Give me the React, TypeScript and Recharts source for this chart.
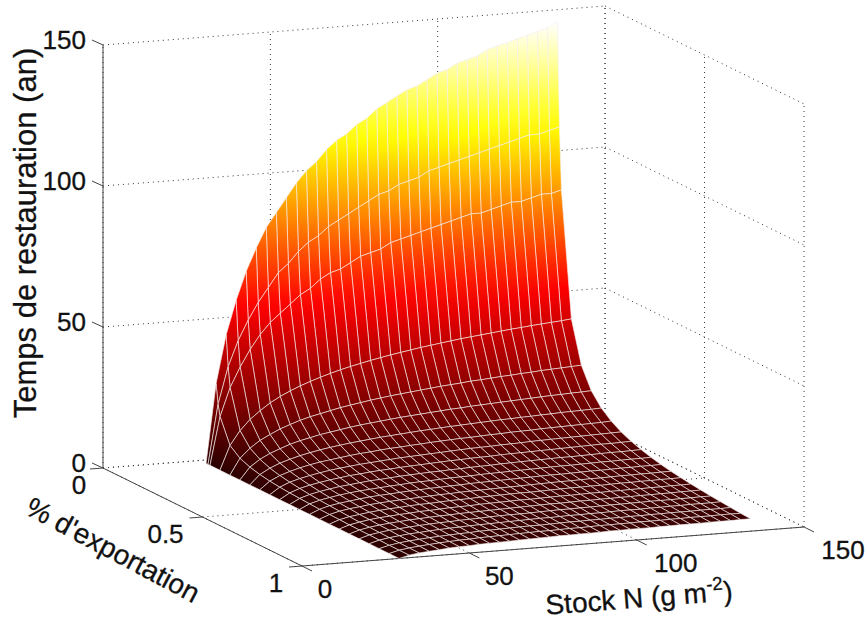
import { ScatterChart, Scatter, XAxis, YAxis } from "recharts";

const stockLevels = [29, 32, 35, 38, 41, 44, 47, 50, 53, 56, 59, 62, 65, 68, 71, 74, 77, 80, 83, 86, 89, 92, 95, 98, 101, 104, 107, 110, 113, 116, 119, 122, 125, 128, 131, 134];
const exportLevels = [0.03, 0.04, 0.05, 0.1, 0.15, 0.2, 0.25, 0.3, 0.35, 0.4, 0.45, 0.5, 0.55, 0.6, 0.65, 0.7, 0.75, 0.8, 0.85, 0.9, 0.95, 1];

// temps de restauration (an), one row per exportLevels entry
const restoreTime = [
  [0, 28, 45, 57, 67, 75, 82, 87, 92, 97, 101, 104, 108, 111, 113, 116, 118, 121, 123, 125, 127, 128, 130, 132, 133, 135, 136, 137, 139, 140, 141, 142, 143, 144, 145, 147],
  [0, 21, 34, 43, 50, 56, 61, 66, 69, 73, 76, 78, 81, 83, 85, 87, 89, 91, 92, 94, 95, 96, 98, 99, 100, 101, 102, 103, 104, 105, 106, 107, 108, 108, 109, 110],
  [0, 17, 27, 34, 40, 45, 49, 52, 55, 58, 60, 63, 65, 66, 68, 70, 71, 72, 74, 75, 76, 77, 78, 79, 80, 81, 82, 82, 83, 84, 85, 85, 86, 87, 87, 88],
  [0, 8.5, 13.5, 17.2, 20, 22.5, 24.5, 26.2, 27.7, 29, 30.2, 31.3, 32.3, 33.2, 34, 34.8, 35.5, 36.2, 36.8, 37.4, 38, 38.5, 39, 39.5, 40, 40.4, 40.8, 41.2, 41.6, 42, 42.3, 42.7, 43, 43.3, 43.6, 44],
  [0, 5.7, 9, 11.5, 13.3, 15, 16.3, 17.5, 18.5, 19.3, 20.1, 20.9, 21.5, 22.1, 22.7, 23.2, 23.7, 24.1, 24.5, 24.9, 25.3, 25.7, 26, 26.3, 26.7, 26.9, 27.2, 27.5, 27.7, 28, 28.2, 28.5, 28.7, 28.9, 29.1, 29.3],
  [0, 4.3, 6.8, 8.6, 10, 11.3, 12.3, 13.1, 13.9, 14.5, 15.1, 15.7, 16.2, 16.6, 17, 17.4, 17.8, 18.1, 18.4, 18.7, 19, 19.3, 19.5, 19.8, 20, 20.2, 20.4, 20.6, 20.8, 21, 21.2, 21.4, 21.5, 21.7, 21.8, 22],
  [0, 3.4, 5.4, 6.9, 8, 9, 9.8, 10.5, 11.1, 11.6, 12.1, 12.5, 12.9, 13.3, 13.6, 13.9, 14.2, 14.5, 14.7, 15, 15.2, 15.4, 15.6, 15.8, 16, 16.2, 16.3, 16.5, 16.6, 16.8, 16.9, 17.1, 17.2, 17.3, 17.4, 17.6],
  [0, 2.8, 4.5, 5.7, 6.7, 7.5, 8.2, 8.7, 9.2, 9.7, 10.1, 10.4, 10.8, 11.1, 11.3, 11.6, 11.8, 12.1, 12.3, 12.5, 12.7, 12.8, 13, 13.2, 13.3, 13.5, 13.6, 13.7, 13.9, 14, 14.1, 14.2, 14.3, 14.4, 14.5, 14.7],
  [0, 2.4, 3.9, 4.9, 5.7, 6.4, 7, 7.5, 7.9, 8.3, 8.6, 8.9, 9.2, 9.5, 9.7, 9.9, 10.1, 10.3, 10.5, 10.7, 10.9, 11, 11.1, 11.3, 11.4, 11.5, 11.7, 11.8, 11.9, 12, 12.1, 12.2, 12.3, 12.4, 12.5, 12.6],
  [0, 2.1, 3.4, 4.3, 5, 5.6, 6.1, 6.6, 6.9, 7.3, 7.6, 7.8, 8.1, 8.3, 8.5, 8.7, 8.9, 9.1, 9.2, 9.4, 9.5, 9.6, 9.8, 9.9, 10, 10.1, 10.2, 10.3, 10.4, 10.5, 10.6, 10.7, 10.8, 10.8, 10.9, 11],
  [0, 1.9, 3, 3.8, 4.4, 5, 5.4, 5.8, 6.2, 6.4, 6.7, 7, 7.2, 7.4, 7.6, 7.7, 7.9, 8, 8.2, 8.3, 8.4, 8.6, 8.7, 8.8, 8.9, 9, 9.1, 9.2, 9.2, 9.3, 9.4, 9.5, 9.6, 9.6, 9.7, 9.8],
  [0, 1.7, 2.7, 3.4, 4, 4.5, 4.9, 5.2, 5.5, 5.8, 6, 6.3, 6.5, 6.6, 6.8, 7, 7.1, 7.2, 7.4, 7.5, 7.6, 7.7, 7.8, 7.9, 8, 8.1, 8.2, 8.2, 8.3, 8.4, 8.5, 8.5, 8.6, 8.7, 8.7, 8.8],
  [0, 1.5, 2.5, 3.1, 3.6, 4.1, 4.5, 4.8, 5, 5.3, 5.5, 5.7, 5.9, 6, 6.2, 6.3, 6.5, 6.6, 6.7, 6.8, 6.9, 7, 7.1, 7.2, 7.3, 7.3, 7.4, 7.5, 7.6, 7.6, 7.7, 7.8, 7.8, 7.9, 7.9, 8],
  [0, 1.4, 2.3, 2.9, 3.3, 3.8, 4.1, 4.4, 4.6, 4.8, 5, 5.2, 5.4, 5.5, 5.7, 5.8, 5.9, 6, 6.1, 6.2, 6.3, 6.4, 6.5, 6.6, 6.7, 6.7, 6.8, 6.9, 6.9, 7, 7.1, 7.1, 7.2, 7.2, 7.3, 7.3],
  [0, 1.3, 2.1, 2.6, 3.1, 3.5, 3.8, 4, 4.3, 4.5, 4.6, 4.8, 5, 5.1, 5.2, 5.4, 5.5, 5.6, 5.7, 5.8, 5.8, 5.9, 6, 6.1, 6.2, 6.2, 6.3, 6.3, 6.4, 6.5, 6.5, 6.6, 6.6, 6.7, 6.7, 6.8],
  [0, 1.2, 1.9, 2.5, 2.9, 3.2, 3.5, 3.7, 4, 4.1, 4.3, 4.5, 4.6, 4.7, 4.9, 5, 5.1, 5.2, 5.3, 5.3, 5.4, 5.5, 5.6, 5.6, 5.7, 5.8, 5.8, 5.9, 5.9, 6, 6, 6.1, 6.1, 6.2, 6.2, 6.3],
  [0, 1.1, 1.8, 2.3, 2.7, 3, 3.3, 3.5, 3.7, 3.9, 4, 4.2, 4.3, 4.4, 4.5, 4.6, 4.7, 4.8, 4.9, 5, 5.1, 5.1, 5.2, 5.3, 5.3, 5.4, 5.4, 5.5, 5.5, 5.6, 5.6, 5.7, 5.7, 5.8, 5.8, 5.9],
  [0, 1.1, 1.7, 2.2, 2.5, 2.8, 3.1, 3.3, 3.5, 3.6, 3.8, 3.9, 4, 4.2, 4.3, 4.4, 4.4, 4.5, 4.6, 4.7, 4.8, 4.8, 4.9, 4.9, 5, 5.1, 5.1, 5.2, 5.2, 5.3, 5.3, 5.3, 5.4, 5.4, 5.5, 5.5],
  [0, 1, 1.6, 2, 2.4, 2.6, 2.9, 3.1, 3.3, 3.4, 3.6, 3.7, 3.8, 3.9, 4, 4.1, 4.2, 4.3, 4.3, 4.4, 4.5, 4.5, 4.6, 4.6, 4.7, 4.8, 4.8, 4.8, 4.9, 4.9, 5, 5, 5.1, 5.1, 5.1, 5.2],
  [0, 0.9, 1.5, 1.9, 2.2, 2.5, 2.7, 2.9, 3.1, 3.2, 3.4, 3.5, 3.6, 3.7, 3.8, 3.9, 3.9, 4, 4.1, 4.2, 4.2, 4.3, 4.3, 4.4, 4.4, 4.5, 4.5, 4.6, 4.6, 4.7, 4.7, 4.7, 4.8, 4.8, 4.8, 4.9],
  [0, 0.9, 1.4, 1.8, 2.1, 2.4, 2.6, 2.8, 2.9, 3.1, 3.2, 3.3, 3.4, 3.5, 3.6, 3.7, 3.7, 3.8, 3.9, 3.9, 4, 4.1, 4.1, 4.2, 4.2, 4.3, 4.3, 4.3, 4.4, 4.4, 4.5, 4.5, 4.5, 4.6, 4.6, 4.6],
  [0, 0.9, 1.4, 1.7, 2, 2.3, 2.5, 2.6, 2.8, 2.9, 3, 3.1, 3.2, 3.3, 3.4, 3.5, 3.6, 3.6, 3.7, 3.7, 3.8, 3.9, 3.9, 4, 4, 4, 4.1, 4.1, 4.2, 4.2, 4.2, 4.3, 4.3, 4.3, 4.4, 4.4],
];

const stockTicks = [0, 50, 100, 150];
const exportTicks = [0, 0.5, 1];
const timeTicks = [0, 50, 100, 150];

const W = 867;
const H = 618;
const MAX_T = 147;

// fixed view of the box, the axes below run in these screen units
const project = (stock: number, exp: number, time: number) => ({
  x: 103 + stock * 3.347 + exp * 199,
  y: 468 - stock * 0.26 + exp * 98 - time * 2.82,
});

const hot = (t: number) => {
  const v = Math.max(0, Math.min(1, t / MAX_T));
  const r = Math.min(1, 0.17 + (0.83 * v) / 0.375);
  const g = Math.max(0, Math.min(1, (v - 0.375) / 0.375));
  const b = Math.max(0, Math.min(1, (v - 0.75) / 0.25));
  return `rgb(${Math.round(r * 255)},${Math.round(g * 255)},${Math.round(b * 255)})`;
};

type Cell = { x: number; y: number; id: string; corners: { dx: number; dy: number; t: number }[] };

const cells: Cell[] = [];
for (let r = 0; r < exportLevels.length - 1; r++) {
  for (let c = stockLevels.length - 2; c >= 0; c--) {
    const raw = [
      [r, c],
      [r, c + 1],
      [r + 1, c + 1],
      [r + 1, c],
    ].map(([a, b]) => ({
      ...project(stockLevels[b], exportLevels[a], restoreTime[a][b]),
      t: restoreTime[a][b],
    }));
    const x = raw.reduce((n, p) => n + p.x, 0) / 4;
    const y = raw.reduce((n, p) => n + p.y, 0) / 4;
    cells.push({ x, y, id: `cell-${r}-${c}`, corners: raw.map((p) => ({ dx: p.x - x, dy: p.y - y, t: p.t })) });
  }
}

const SurfaceCell = (props: any) => {
  const { cx, cy, payload } = props;
  const pts = payload.corners.map((p: any) => ({ x: cx + p.dx, y: cy + p.dy, t: p.t }));
  const low = pts.reduce((a: any, b: any) => (b.t < a.t ? b : a));
  const high = pts.reduce((a: any, b: any) => (b.t > a.t ? b : a));
  const stops = [0, 0.25, 0.5, 0.75, 1];
  return (
    <g>
      <defs>
        <linearGradient id={payload.id} gradientUnits="userSpaceOnUse" x1={low.x} y1={low.y} x2={high.x} y2={high.y}>
          {stops.map((s) => (
            <stop key={s} offset={s} stopColor={hot(low.t + (high.t - low.t) * s)} />
          ))}
        </linearGradient>
      </defs>
      <polygon
        points={pts.map((p: any) => `${p.x},${p.y}`).join(" ")}
        fill={`url(#${payload.id})`}
        stroke="#f4eeee"
        strokeOpacity={0.75}
        strokeWidth={0.85}
        strokeLinejoin="round"
      />
    </g>
  );
};

const noMark = () => <g />;

const Label = (props: any) => {
  const { cx, cy, payload } = props;
  return (
    <text
      x={cx}
      y={cy}
      fontFamily="Liberation Sans"
      fontSize={26}
      fill="#111"
      stroke="#111"
      strokeWidth={0.3}
      textAnchor="middle"
      dominantBaseline="central"
    >
      {payload.text}
    </text>
  );
};

const AxisTitle = (props: any) => {
  const { cx, cy, payload } = props;
  return (
    <text
      x={cx}
      y={cy}
      transform={`rotate(${payload.angle} ${cx} ${cy})`}
      fontFamily="Liberation Sans"
      fontSize={payload.size}
      fill="#111"
      stroke="#111"
      strokeWidth={0.3}
      textAnchor="middle"
      dominantBaseline="central"
    >
      {payload.text}
      {payload.sup && (
        <tspan dy={-9} fontSize={payload.size * 0.66}>
          {payload.sup}
        </tspan>
      )}
      {payload.sup && <tspan dy={9}>)</tspan>}
    </text>
  );
};

const segments = (list: number[][][]) => list.map((s) => s.map(([a, b, c]) => project(a, b, c)));

// dotted walls and floor
const wallLines = segments([
  ...timeTicks.map((t) => [[0, 0, t], [150, 0, t]]),
  ...timeTicks.map((t) => [[150, 0, t], [150, 1, t]]),
  ...stockTicks.map((s) => [[s, 0, 0], [s, 0, 150]]),
  ...exportTicks.map((e) => [[150, e, 0], [150, e, 150]]),
  ...exportTicks.map((e) => [[0, e, 0], [150, e, 0]]),
  ...stockTicks.map((s) => [[s, 0, 0], [s, 1, 0]]),
]);

const axisLines = segments([
  [[0, 0, 0], [0, 0, 150]],
  [[0, 0, 0], [0, 1, 0]],
  [[0, 1, 0], [150, 1, 0]],
]);

const tickLines = [
  ...timeTicks.map((t) => {
    const p = project(0, 0, t);
    return [{ x: p.x - 11, y: p.y - 5 }, p];
  }),
  ...exportTicks.map((e) => {
    const p = project(0, e, 0);
    return [{ x: p.x - 13, y: p.y + 1 }, p];
  }),
  ...stockTicks.map((s) => {
    const p = project(s, 1, 0);
    return [p, { x: p.x + 10, y: p.y + 5 }];
  }),
];

const exportLabelDx = [-24, -37, -26];
const stockLabelDx = [23, 30, 39, 39];

const labels = [
  ...timeTicks.map((t) => {
    const p = project(0, 0, t);
    const text = String(t);
    return { x: 86 - (text.length * 14.5) / 2, y: p.y - 5, text };
  }),
  ...exportTicks.map((e, i) => {
    const p = project(0, e, 0);
    return { x: p.x + exportLabelDx[i], y: p.y + 17, text: String(e) };
  }),
  ...stockTicks.map((s, i) => {
    const p = project(s, 1, 0);
    return { x: p.x + stockLabelDx[i], y: p.y + 23, text: String(s) };
  }),
];

const titles = [
  { x: 25, y: 233, text: "Temps de restauration (an)", angle: -90, size: 31 },
  { x: 113, y: 550, text: "% d'exportation", angle: 28, size: 28 },
  { x: 639, y: 598, text: "Stock N (g m", sup: "-2", angle: -4.5, size: 28 },
];

const App = () => {
  return (
    <div style={{ position: "absolute", left: 0, top: 0, width: W, height: H, background: "#fff" }}>
      <ScatterChart width={W} height={H} margin={{ top: 0, right: 0, bottom: 0, left: 0 }}>
        <XAxis type="number" dataKey="x" domain={[0, W]} hide />
        <YAxis type="number" dataKey="y" domain={[0, H]} reversed hide />
        {wallLines.map((d, i) => (
          <Scatter
            key={`wall-${i}`}
            data={d}
            shape={noMark}
            line={{ stroke: "#333", strokeWidth: 1, strokeDasharray: "1 4" }}
            isAnimationActive={false}
          />
        ))}
        {[...axisLines, ...tickLines].map((d, i) => (
          <Scatter
            key={`axis-${i}`}
            data={d}
            shape={noMark}
            line={{ stroke: "#444", strokeWidth: 1 }}
            isAnimationActive={false}
          />
        ))}
        <Scatter data={cells} shape={SurfaceCell} isAnimationActive={false} />
        <Scatter data={labels} shape={Label} isAnimationActive={false} />
        <Scatter data={titles} shape={AxisTitle} isAnimationActive={false} />
      </ScatterChart>
    </div>
  );
};

export default App;
